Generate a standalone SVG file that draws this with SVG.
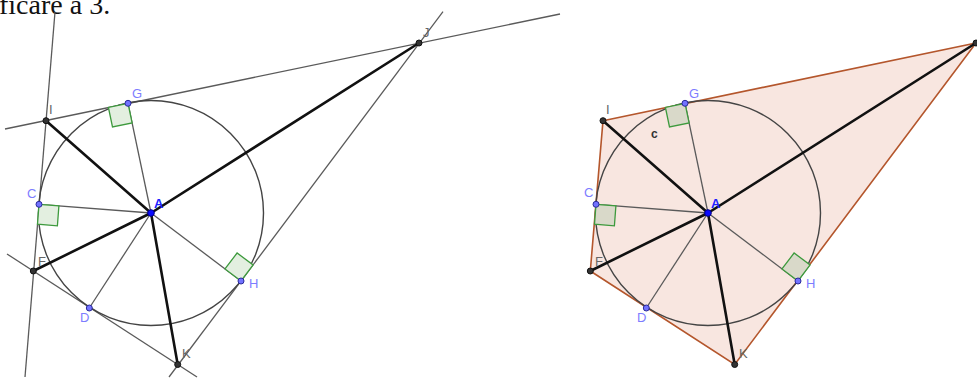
<svg xmlns="http://www.w3.org/2000/svg" width="977" height="378" viewBox="0 0 977 378">
<style>
.thin{stroke:#5a5a5a;stroke-width:1.3;fill:none}
.thick{stroke:#111;stroke-width:2.6;fill:none;stroke-linecap:round}
.circ{stroke:#444;stroke-width:1.4;fill:none}
.ra{stroke:#3d9a3d;stroke-width:1.3;fill:#e3efe0}
.raR{stroke:#3d9a3d;stroke-width:1.3;fill:#d9d9c9}
.pb{fill:#7272ff;stroke:#2a2a9a;stroke-width:1}
.pa{fill:#0a0aff;stroke:#00008a;stroke-width:1}
.pd{fill:#333;stroke:#111;stroke-width:1}
.lb{font-family:"Liberation Sans",Arial,sans-serif;font-size:13px;fill:#7d7dff}
.la{font-family:"Liberation Sans",Arial,sans-serif;font-size:13px;font-weight:bold;fill:#2020ff}
.lg{font-family:"Liberation Sans",Arial,sans-serif;font-size:13px;fill:#666}
.lc{font-family:"Liberation Sans",Arial,sans-serif;font-size:12px;font-weight:bold;fill:#333}
.poly{fill:#f8e6e0;stroke:#b4562c;stroke-width:1.6}
</style>
<rect width="977" height="378" fill="#fff"/>
<text x="-1" y="14" font-family="'Liberation Serif','Times New Roman',serif" font-size="28" fill="#111">ficare a 3.</text>

<!-- LEFT FIGURE -->
<g id="left">
<g id="connectors-left">
<line class="thin" x1="5" y1="129" x2="560" y2="14"/>
<line class="thin" x1="55" y1="12" x2="25" y2="377"/>
<line class="thin" x1="7" y1="254" x2="197" y2="377"/>
<line class="thin" x1="443" y1="11.7" x2="169" y2="377"/>
<circle class="circ" cx="151" cy="213" r="112.5"/>
<line class="thin" x1="151" y1="213" x2="128" y2="103.3"/>
<line class="thin" x1="151" y1="213" x2="39" y2="204.3"/>
<line class="thin" x1="151" y1="213" x2="89.3" y2="308"/>
<line class="thin" x1="151" y1="213" x2="241" y2="281"/>
<line class="thick" x1="151" y1="213" x2="46" y2="120.7"/>
<line class="thick" x1="151" y1="213" x2="419" y2="43"/>
<line class="thick" x1="151" y1="213" x2="33.3" y2="271"/>
<line class="thick" x1="151" y1="213" x2="177.7" y2="364.5"/>
<polygon class="ra" points="128,103.3 108.4,107.4 112.5,127 132.1,122.9"/>
<polygon class="ra" points="39,204.3 58.9,205.8 57.4,225.8 37.5,224.2"/>
<polygon class="ra" points="241,281 225,268.9 237.1,253 253.1,265"/>
</g>
<g id="L-A"><circle class="pa" cx="151" cy="213" r="3.3"/><text class="la" x="154" y="208">A</text></g>
<g id="L-G"><circle class="pb" cx="128" cy="103.3" r="3"/><text class="lb" x="132" y="98">G</text></g>
<g id="L-C"><circle class="pb" cx="39" cy="204.3" r="3"/><text class="lb" x="27" y="198">C</text></g>
<g id="L-D"><circle class="pb" cx="89.3" cy="308" r="3"/><text class="lb" x="80" y="322">D</text></g>
<g id="L-H"><circle class="pb" cx="241" cy="281" r="3"/><text class="lb" x="249" y="288">H</text></g>
<g id="L-I"><circle class="pd" cx="46" cy="120.7" r="3"/><text class="lg" x="49" y="114">I</text></g>
<g id="L-F"><circle class="pd" cx="33.3" cy="271" r="3"/><text class="lg" x="38" y="266">F</text></g>
<g id="L-K"><circle class="pd" cx="177.7" cy="364.5" r="3"/><text class="lg" x="182" y="358">K</text></g>
<g id="L-J"><circle class="pd" cx="419" cy="43" r="3"/><text class="lg" x="423" y="37">J</text></g>
</g>

<!-- RIGHT FIGURE -->
<g id="right">
<g id="connectors-right">
<polygon class="poly" points="603,120.7 976,43 734.7,364.5 590.3,271"/>
<circle class="circ" cx="708" cy="213" r="112.5"/>
<line class="thin" x1="708" y1="213" x2="685" y2="103.3"/>
<line class="thin" x1="708" y1="213" x2="596" y2="204.3"/>
<line class="thin" x1="708" y1="213" x2="646.3" y2="308"/>
<line class="thin" x1="708" y1="213" x2="798" y2="281"/>
<line class="thick" x1="708" y1="213" x2="603" y2="120.7"/>
<line class="thick" x1="708" y1="213" x2="976" y2="43"/>
<line class="thick" x1="708" y1="213" x2="590.3" y2="271"/>
<line class="thick" x1="708" y1="213" x2="734.7" y2="364.5"/>
<polygon class="raR" points="685,103.3 665.4,107.4 669.5,127 689.1,122.9"/>
<polygon class="raR" points="596,204.3 615.9,205.8 614.4,225.8 594.5,224.2"/>
<polygon class="raR" points="798,281 782,268.9 794.1,253 810.1,265"/>
</g>
<text class="lc" x="651" y="138">c</text>
<g id="R-A"><circle class="pa" cx="708" cy="213" r="3.3"/><text class="la" x="711" y="208">A</text></g>
<g id="R-G"><circle class="pb" cx="685" cy="103.3" r="3"/><text class="lb" x="689" y="98">G</text></g>
<g id="R-C"><circle class="pb" cx="596" cy="204.3" r="3"/><text class="lb" x="584" y="197">C</text></g>
<g id="R-D"><circle class="pb" cx="646.3" cy="308" r="3"/><text class="lb" x="637" y="322">D</text></g>
<g id="R-H"><circle class="pb" cx="798" cy="281" r="3"/><text class="lb" x="806" y="288">H</text></g>
<g id="R-I"><circle class="pd" cx="603" cy="120.7" r="3"/><text class="lg" x="606" y="114">I</text></g>
<g id="R-F"><circle class="pd" cx="590.3" cy="271" r="3"/><text class="lg" x="595" y="266">F</text></g>
<g id="R-K"><circle class="pd" cx="734.7" cy="364.5" r="3"/><text class="lg" x="739" y="358">K</text></g>
<g id="R-J"><circle class="pd" cx="976" cy="43" r="3"/></g>
</g>
</svg>
